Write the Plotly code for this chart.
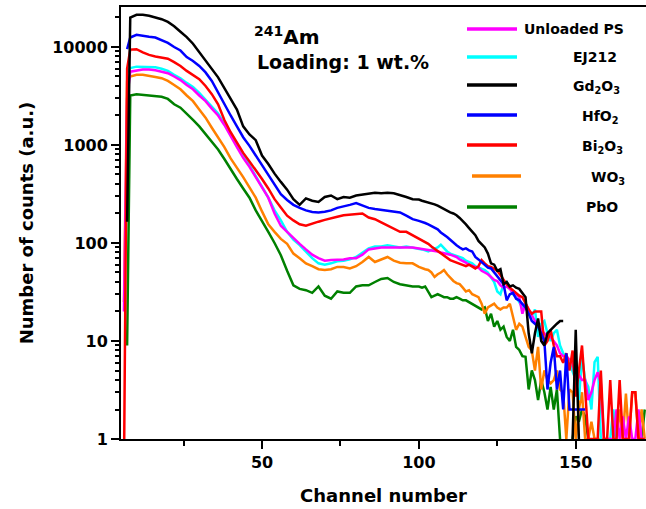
import plotly.graph_objects as go

# ---------------- data ----------------
channels = [6, 7] + list(range(8, 101, 2)) + list(range(101, 173))

N = None
black_gd2o3 = [N, 165,
    20000, 21300, 21300, 20800, 20000, 19200, 18000, 16300, 14300, 12600,
    10800, 8800, 7200, 6000, 4900, 3800, 3000, 2300, 1550, 1280,
    1120, 780, 640, 510, 420, 350, 280, 245, 285, 270,
    262, 295, 305, 280, 295, 290, 305, 310, 315, 325,
    322, 325, 322, 310, 295, 280, 278,
    270, 265, 262, 255, 248, 240, 230, 222, 212, 205,
    200, 192, 180, 168, 155, 142, 132, 120, 105, 98,
    90, 78, 62, 60, 52, 54, 38, 40, 36, 37,
    35, 34, 31, 28, 12, 7.5, 12, 17, 10, 9,
    12, 13, 14, 15, 16, 16, N, N, 1, 13,
    1, N, N, N, N, N, N, N, N, N,
    N, N, N, N, N, N, N, N, N, N,
    N, N]

blue_hfo2 = [N, 9500,
    12500, 13300, 12900, 12700, 12500, 11800, 11000, 10000, 9200, 7900,
    7200, 6400, 5500, 4500, 3400, 2600, 2000, 1550, 1200, 980,
    780, 620, 500, 390, 315, 275, 245, 228, 215, 207,
    205, 208, 215, 228, 235, 245, 255, 240, 228, 222,
    218, 215, 210, 205, 190, 175, 168,
    165, 160, 155, 150, 145, 138, 128, 122, 115, 108,
    100, 95, 90, 86, 88, 84, 82, 72, 68, 64,
    60, 56, 55, 50, 45, 41, 38, 26, 30, 31,
    27, 26, 24, 22, 19, 16, 15, 14, 12, 10,
    3.2, 6, 8.7, 3.2, 5, 2, 7.5, 2, 2, 2,
    2, 2, 2, N, N, N, N, N, N, N,
    N, N, N, N, N, N, N, N, N, N,
    N, N]

red_bi2o3 = [0.5, 6000,
    9400, 9500, 8800, 8300, 8000, 7800, 7600, 7000, 6400, 5700,
    5200, 4700, 4000, 3300, 2600, 1800, 1350, 1050, 830, 680,
    560, 450, 360, 280, 230, 190, 170, 155, 150, 158,
    165, 172, 180, 185, 192, 195, 198, 200, 182, 175,
    162, 150, 138, 130, 130, 120, 112,
    108, 102, 98, 92, 87, 82, 78, 74, 70, 67,
    65, 63, 62, 60, 58, 60, 57, 55, 58, 67,
    62, 58, 57, 54, 52, 47, 42, 38, 35, 33,
    31, 29, 28, 24, 21, 19, 20, 20, 20, 9,
    10, 13, 9, 7, 7, 6, 7.5, 5, 8, 2.7,
    5, 9, 3.2, 1, 1, 1, 1, 5, 1, 1,
    4, 1, 1, 4, 1, 1, 1, 3, 3, 1,
    1, 1]

cyan_ej212 = [N, 5500,
    6100, 6300, 6300, 6300, 6200, 6000, 5700, 5200, 4800, 4300,
    3900, 3400, 2900, 2500, 2100, 1650, 1300, 1000, 780, 620,
    480, 370, 290, 215, 170, 130, 108, 95, 82, 70,
    62, 60, 62, 65, 66, 68, 72, 80, 88, 92,
    92, 95, 92, 90, 92, 90, 88,
    86, 84, 82, 85, 88, 90, 96, 88, 82, 78,
    76, 75, 73, 70, 66, 64, 62, 58, 56, 54,
    53, 50, 45, 40, 32, 30, 38, 40, 35, 30,
    28, 25, 22, 24, 20, 18, 21, 11, 15, 16,
    12, 10, 12, 13, 9, 7.5, 6.9, 6, 5, 4,
    2.5, 6.9, 4, 3.4, 2, 6.1, 6.9, 1, N, 1,
    1, 2, 1, N, N, N, N, N, N, N,
    N, N]

magenta_ps = [20, 3000,
    5600, 5800, 5900, 5900, 5800, 5600, 5400, 5000, 4600, 4100,
    3700, 3200, 2800, 2350, 2000, 1600, 1220, 950, 740, 600,
    470, 370, 290, 200, 150, 130, 112, 98, 86, 76,
    70, 66, 67, 67, 68, 70, 70, 76, 86, 88,
    90, 90, 90, 91, 90, 90, 88,
    87, 86, 85, 84, 84, 82, 80, 79, 78, 76,
    74, 72, 68, 66, 63, 60, 58, 57, 56, 52,
    50, 48, 45, 42, 41, 37, 35, 36, 34, 31,
    30, 28, 19, 24, 21, 18, 16, 15, 13, 12,
    11, 11, 10, 9, 7.5, 7, 7, 6.5, 6, 4,
    4.5, 4, 4, 2.5, 3, 4, 4.8, 3.7, 1, 1,
    1, 1, 2, 1, 1.7, 1, 1.7, 1, 1, 2,
    1, 1]

orange_wo3 = [25, 4500,
    5000, 5200, 5200, 5100, 4950, 4800, 4500, 4100, 3700, 3200,
    2800, 2300, 1900, 1500, 1200, 950, 730, 590, 470, 370,
    290, 210, 155, 130, 110, 98, 78, 70, 62, 58,
    54, 53, 54, 57, 57, 55, 58, 64, 72, 64,
    68, 72, 66, 63, 62, 62, 57,
    55, 54, 53, 50, 45, 48, 50, 53, 48, 44,
    41, 39, 38, 35, 32, 33, 30, 29, 28, 24,
    19, 22, 23, 24, 22, 21, 22, 22, 24, 18,
    13, 15, 14, 11, 8.7, 8, 5, 8.7, 3.2, 5,
    4, 3.7, 4, 5, 3.2, 3, 1, 3.2, 3, 1,
    2, 3, 1, 1, 1.5, 1, 1, 1, 1, N,
    N, N, 1, 2, 1, 2.9, 1, 3, 3, 1,
    2, 1]

green_pbo = [N, 9,
    3200, 3300, 3250, 3250, 3200, 3100, 2950, 2600, 2400, 2100,
    1800, 1550, 1300, 1100, 900, 720, 560, 450, 360, 290,
    215, 170, 130, 100, 75, 52, 37, 34, 33, 31,
    36, 29, 27, 32, 31, 31, 36, 37, 37, 40,
    43, 44, 40, 38, 37, 36, 36,
    35, 36, 32, 28, 29, 30, 29, 28, 28, 27,
    27, 28, 27, 26, 26, 25, 24, 23, 22, 21,
    22, 16, 19, 14, 16, 13, 14, 11, 10, 13,
    8.7, 8.1, 7, 6.9, 3.2, 5, 4, 2.5, 4, 3,
    2, 3.4, 2, 3.2, 1, N, N, N, 1, 1.7,
    1.5, 2, 1.7, 1, N, N, N, N, N, N,
    N, N, N, N, N, N, N, N, N, 1,
    1, 2]

series_names = ["Unloaded PS", "EJ212", "Gd<sub>2</sub>O<sub>3</sub>", "HfO<sub>2</sub>",
                "Bi<sub>2</sub>O<sub>3</sub>", "WO<sub>3</sub>", "PbO"]
series_values = [magenta_ps, cyan_ej212, black_gd2o3, blue_hfo2, red_bi2o3, orange_wo3, green_pbo]
series_colors = ["#FF00FF", "#00FFFF", "#000000", "#0000FF", "#FF0000", "#FF8000", "#008000"]
draw_order = [6, 5, 1, 0, 4, 3, 2]  # back to front

x_ticks = [50, 100, 150]
x_minor = [25, 75, 125]
y_ticks = [1, 10, 100, 1000, 10000]
y_tick_text = ["1", "10", "100", "1000", "10000"]

for v in series_values:
    assert len(v) == len(channels), len(v)

# ---------------- figure ----------------
W, H = 646, 509
L, R, T, B = 121, 0, 7, 70
pw, ph = W - L - R, H - T - B


def px(x, y):
    return (x - L) / pw, (H - B - y) / ph


FONT = "DejaVu Sans"
fig = go.Figure()
for i in draw_order:
    fig.add_trace(go.Scatter(
        x=channels, y=series_values[i], mode="lines",
        line=dict(color=series_colors[i], width=2.5),
        name=series_names[i], showlegend=False, connectgaps=False))

minor_y = [m * 10 ** d for d in range(0, 5) for m in range(2, 10)]

fig.update_layout(
    width=W, height=H,
    margin=dict(l=L, r=R, t=T, b=B, pad=0),
    paper_bgcolor="white", plot_bgcolor="white",
    font=dict(family=FONT, color="black"),
    xaxis=dict(
        range=[5.05, 172.4], showgrid=False, zeroline=False,
        showline=True, linecolor="black", linewidth=2, mirror=True,
        ticks="outside", ticklen=8, tickwidth=2, tickcolor="black",
        tickvals=x_ticks, ticktext=[str(t) for t in x_ticks],
        tickfont=dict(family=FONT, size=16, weight="bold"),
        minor=dict(tickvals=x_minor, ticks="outside", ticklen=5, tickwidth=2, tickcolor="black"),
        title=dict(text="Channel number", font=dict(family=FONT, size=18, weight="bold"), standoff=18),
    ),
    yaxis=dict(
        type="log", range=[0, 4.408], showgrid=False, zeroline=False,
        showline=True, linecolor="black", linewidth=2, mirror=False,
        ticks="outside", ticklen=8, tickwidth=2, tickcolor="black",
        tickvals=y_ticks, ticktext=y_tick_text,
        tickfont=dict(family=FONT, size=16, weight="bold"),
        minor=dict(tickvals=minor_y, ticks="outside", ticklen=4, tickwidth=1.5, tickcolor="black"),
        title=dict(text="Number of counts (a.u.)", font=dict(family=FONT, size=18, weight="bold"), standoff=14),
    ),
)

# text annotations in plot
ax, ay = px(287, 36)
fig.add_annotation(x=ax, y=ay, xref="paper", yref="paper", text="<sup>241</sup>Am",
                   showarrow=False, font=dict(family=FONT, size=20, weight="bold"),
                   xanchor="center", yanchor="middle")
ax, ay = px(343, 62)
fig.add_annotation(x=ax, y=ay, xref="paper", yref="paper", text="Loading: 1 wt.%",
                   showarrow=False, font=dict(family=FONT, size=19, weight="bold"),
                   xanchor="center", yanchor="middle")

# custom legend
leg_rows = [29, 57, 85, 115, 145, 176, 207]
leg_text_x = [522, 571, 571, 580, 580, 589, 584]
leg_line_x = [(467, 517)] * 5 + [(472, 521), (467, 517)]
leg_text_dy = [0, 0, 2, 2, 2, 2, 0]
for k in range(7):
    x0, y0 = px(leg_line_x[k][0], leg_rows[k])
    x1, _ = px(leg_line_x[k][1], leg_rows[k])
    fig.add_shape(type="line", xref="paper", yref="paper", x0=x0, x1=x1, y0=y0, y1=y0,
                  line=dict(color=series_colors[k], width=3.5))
    tx, ty = px(leg_text_x[k], leg_rows[k] + leg_text_dy[k])
    fig.add_annotation(x=tx, y=ty, xref="paper", yref="paper", text=series_names[k],
                       showarrow=False, font=dict(family=FONT, size=14, weight="bold"),
                       xanchor="left", yanchor="middle")

fig.write_html("out.html")
